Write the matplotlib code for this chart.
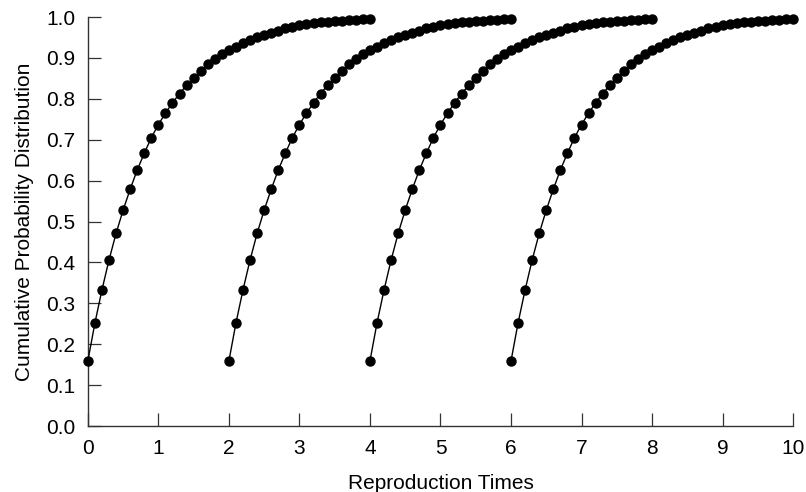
import matplotlib
matplotlib.use("Agg")
import matplotlib.pyplot as plt
import numpy as np

# Cumulative probability per reproduction cycle, sampled every 0.1 time units
step = 0.1
cdf_values = [
    0.159, 0.252, 0.333, 0.406, 0.471, 0.528, 0.579, 0.626, 0.667, 0.705,
    0.737, 0.765, 0.790, 0.813, 0.833, 0.852, 0.868, 0.884, 0.897, 0.909,
    0.919, 0.927, 0.936, 0.944, 0.950, 0.956, 0.962, 0.967, 0.972, 0.976,
    0.980, 0.983, 0.985, 0.987, 0.989, 0.990, 0.991, 0.992, 0.993, 0.994,
    0.994,
]
# Start time of each reproduction cycle
start_times = [0, 2, 4, 6]

x_ticks = list(range(0, 11))
y_ticks = [round(0.1 * i, 1) for i in range(11)]

plt.rcParams["font.family"] = ["Liberation Sans", "DejaVu Sans"]

fig = plt.figure(figsize=(8.06, 4.92), dpi=100)
ax = fig.add_axes([0.109, 0.134, 0.875, 0.8314])

offsets = np.arange(len(cdf_values)) * step
for t0 in start_times:
    ax.plot(t0 + offsets, cdf_values, color="black", linewidth=1.0,
            marker="o", markersize=6.5, markerfacecolor="black",
            markeredgecolor="black", clip_on=False, zorder=3)

ax.set_xlim(0, 10)
ax.set_ylim(0, 1.0)
ax.set_xticks(x_ticks)
ax.set_yticks(y_ticks)
ax.set_yticklabels([f"{v:.1f}" for v in y_ticks])

for side in ("top", "right"):
    ax.spines[side].set_visible(False)
for side in ("left", "bottom"):
    ax.spines[side].set_color("#333333")
    ax.spines[side].set_linewidth(1.0)

ax.tick_params(direction="in", length=9.5, width=0.9, color="#333333",
               labelsize=15)
ax.tick_params(axis="y", pad=9)
ax.tick_params(axis="x", pad=9)

ax.set_xlabel("Reproduction Times", fontsize=15, labelpad=12)
ax.set_ylabel("Cumulative Probability Distribution", fontsize=15, labelpad=9)

fig.savefig("out.png", dpi=100, facecolor="white")
